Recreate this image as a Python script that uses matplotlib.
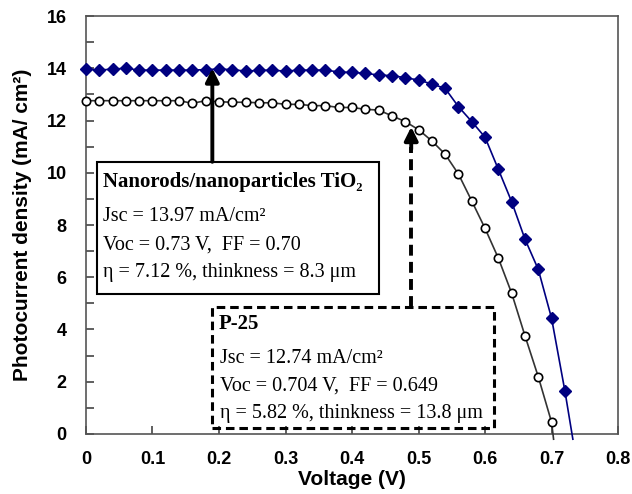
import matplotlib.pyplot as plt
from matplotlib.patches import Rectangle

# Nanorods/nanoparticles TiO2 cell (blue diamonds)
v_nr = [0.00, 0.02, 0.04, 0.06, 0.08, 0.10, 0.12, 0.14, 0.16, 0.18,
        0.20, 0.22, 0.24, 0.26, 0.28, 0.30, 0.32, 0.34, 0.36, 0.38,
        0.40, 0.42, 0.44, 0.46, 0.48, 0.50, 0.52, 0.54, 0.56, 0.58,
        0.60, 0.62, 0.64, 0.66, 0.68, 0.70, 0.72, 0.732]
j_nr = [13.97, 13.93, 13.97, 14.00, 13.93, 13.93, 13.93, 13.93, 13.93, 13.95,
        13.97, 13.95, 13.89, 13.92, 13.93, 13.89, 13.93, 13.93, 13.93, 13.86,
        13.84, 13.81, 13.74, 13.72, 13.64, 13.55, 13.40, 13.23, 12.53, 11.96,
        11.36, 10.13, 8.89, 7.46, 6.30, 4.43, 1.65, -0.2]

# P-25 cell (open circles)
v_p25 = [0.00, 0.02, 0.04, 0.06, 0.08, 0.10, 0.12, 0.14, 0.16, 0.18,
         0.20, 0.22, 0.24, 0.26, 0.28, 0.30, 0.32, 0.34, 0.36, 0.38,
         0.40, 0.42, 0.44, 0.46, 0.48, 0.50, 0.52, 0.54, 0.56, 0.58,
         0.60, 0.62, 0.64, 0.66, 0.68, 0.70, 0.703]
j_p25 = [12.76, 12.76, 12.76, 12.76, 12.76, 12.76, 12.76, 12.76, 12.66, 12.76,
         12.72, 12.70, 12.70, 12.68, 12.68, 12.62, 12.62, 12.57, 12.57, 12.50,
         12.50, 12.43, 12.40, 12.18, 11.96, 11.65, 11.22, 10.71, 9.95, 8.92,
         7.87, 6.73, 5.39, 3.76, 2.19, 0.45, -0.2]

nr_title = 'Nanorods/nanoparticles TiO\u2082'
nr_lines = ['Jsc = 13.97 mA/cm\u00b2',
            'Voc = 0.73 V,  FF = 0.70',
            '\u03b7 = 7.12 %, thinkness = 8.3 \u03bcm']
p25_title = 'P-25'
p25_lines = ['Jsc = 12.74 mA/cm\u00b2',
             'Voc = 0.704 V,  FF = 0.649',
             '\u03b7 = 5.82 %, thinkness = 13.8 \u03bcm']

serif = ['Liberation Serif', 'DejaVu Serif']
sans = ['Liberation Sans', 'DejaVu Sans']

fig = plt.figure(figsize=(6.32, 4.94), dpi=100)
ax = fig.add_axes([0.136, 0.1215, 0.842, 0.846])

ax.plot(v_nr, j_nr, color='#000080', lw=1.2, marker='D', ms=6.5,
        markevery=list(range(len(v_nr) - 1)), clip_on=False, zorder=3)
ax.plot(v_p25, j_p25, color='#333333', lw=1.2, marker='o', ms=6,
        mfc='white', mec='black', mew=1.2,
        markevery=list(range(len(v_p25) - 1)), clip_on=False, zorder=3)

ax.set_xlim(0, 0.8)
ax.set_ylim(0, 16)
ax.set_xticks([0, 0.1, 0.2, 0.3, 0.4, 0.5, 0.6, 0.7, 0.8])
ax.set_xticklabels(['0', '0.1', '0.2', '0.3', '0.4', '0.5', '0.6', '0.7', '0.8'])
ax.set_yticks(range(0, 17, 2))
ax.set_yticks(range(1, 17, 2), minor=True)
ax.tick_params(axis='both', which='both', direction='in', length=6, width=1.2,
               colors='#444444', labelcolor='black')
ax.tick_params(axis='y', pad=14)
ax.tick_params(axis='x', pad=12)
ax.tick_params(top=False, right=False, which='both')
for lab in ax.get_xticklabels() + ax.get_yticklabels():
    lab.set_family(sans)
    lab.set_fontweight('bold')
    lab.set_fontsize(13)
for sp in ax.spines.values():
    sp.set_color('#555555')
    sp.set_linewidth(1.2)

ax.set_xlabel('Voltage (V)', fontsize=15, fontweight='bold', family=sans, labelpad=2)
ax.set_ylabel('Photocurrent density (mA/ cm\u00b2)', fontsize=15, fontweight='bold',
              family=sans, labelpad=10)

# solid box + arrow
ax.add_patch(Rectangle((0.0165, 5.35), 0.4235, 5.07, fill=False, lw=1.5,
                       ec='black', zorder=4))
ax.annotate('', xy=(0.19, 14.0), xytext=(0.19, 10.42),
            arrowprops=dict(arrowstyle='-|>', lw=2.8, color='black',
                            mutation_scale=20, shrinkA=0, shrinkB=0), zorder=5)
ax.text(0.026, 9.45, nr_title, fontsize=15, fontweight='bold', family=serif,
        va='baseline', zorder=5)
for txt, yy in zip(nr_lines, [8.17, 7.07, 6.0]):
    ax.text(0.026, yy, txt, fontsize=14.5, family=serif, va='baseline', zorder=5)

# dashed box + arrow
dash = (0, (2.8, 1.6))
ax.add_patch(Rectangle((0.19, 0.24), 0.423, 4.63, fill=False, lw=2.2,
                       ec='black', ls=dash, zorder=4))
ax.plot([0.489, 0.489], [4.87, 11.0], color='black', lw=2.8, ls=dash, zorder=5)
ax.annotate('', xy=(0.489, 11.76), xytext=(0.489, 10.9),
            arrowprops=dict(arrowstyle='-|>', lw=2.8, color='black',
                            mutation_scale=20, shrinkA=0, shrinkB=0), zorder=5)
ax.text(0.2, 4.0, p25_title, fontsize=15, fontweight='bold', family=serif,
        va='baseline', zorder=5)
for txt, yy in zip(p25_lines, [2.73, 1.66, 0.6]):
    ax.text(0.2015, yy, txt, fontsize=14.5, family=serif, va='baseline', zorder=5)

fig.savefig('out.png', dpi=100)
